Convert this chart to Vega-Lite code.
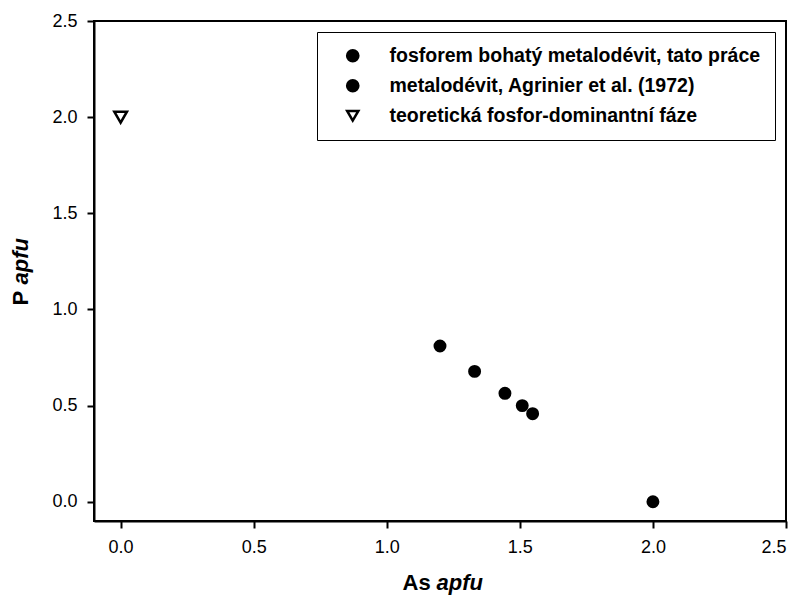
{
  "$schema": "https://vega.github.io/schema/vega-lite/v6.json",
  "width": 692,
  "height": 500,
  "autosize": {"type": "none"},
  "padding": {"left": 94, "top": 21, "right": 18, "bottom": 85},
  "background": "white",
  "config": {
    "font": "Liberation Sans",
    "view": {"stroke": "black", "strokeWidth": 2},
    "axis": {
      "grid": false,
      "domainColor": "black",
      "domainWidth": 2,
      "tickColor": "black",
      "tickWidth": 2,
      "tickSize": 7,
      "labelFont": "Liberation Sans",
      "labelFontSize": 18,
      "labelColor": "black",
      "titleFont": "Liberation Sans",
      "titleFontSize": 22,
      "titleFontWeight": "bold",
      "titleColor": "black"
    },
    "legend": {
      "labelFont": "Liberation Sans",
      "labelFontSize": 19.5,
      "labelFontWeight": "bold",
      "labelColor": "black",
      "labelLimit": 600
    }
  },
  "resolve": {"axis": {"x": "independent", "y": "independent"}},
  "layer": [
    {
      "data": {
        "values": [
          {"As": 1.20, "P": 0.81, "series": "fosforem bohatý metalodévit, tato práce"},
          {"As": 1.33, "P": 0.678, "series": "fosforem bohatý metalodévit, tato práce"},
          {"As": 1.444, "P": 0.564, "series": "fosforem bohatý metalodévit, tato práce"},
          {"As": 1.509, "P": 0.50, "series": "fosforem bohatý metalodévit, tato práce"},
          {"As": 1.548, "P": 0.458, "series": "fosforem bohatý metalodévit, tato práce"},
          {"As": 2.0, "P": 0.0, "series": "metalodévit, Agrinier et al. (1972)"}
        ]
      },
      "mark": {"type": "point", "filled": false, "strokeWidth": 2, "size": 120, "opacity": 1},
      "encoding": {
        "x": {
          "field": "As", "type": "quantitative",
          "scale": {"domain": [-0.1, 2.5], "nice": false, "zero": false},
          "axis": {
            "orient": "bottom",
            "values": [0, 0.5, 1, 1.5, 2, 2.5],
            "format": ".1f",
            "labelPadding": 10,
            "title": "As",
            "titleAlign": "left",
            "titleBaseline": "middle",
            "titleX": 308,
            "titleY": 61
          }
        },
        "y": {
          "field": "P", "type": "quantitative",
          "scale": {"domain": [-0.1, 2.5], "nice": false, "zero": false},
          "axis": {
            "orient": "left",
            "values": [0, 0.5, 1, 1.5, 2, 2.5],
            "format": ".1f",
            "labelPadding": 10,
            "title": "P",
            "titleAngle": -90,
            "titleAlign": "left",
            "titleBaseline": "middle",
            "titleX": -74,
            "titleY": 284
          }
        },
        "shape": {
          "field": "series", "type": "nominal",
          "scale": {
            "domain": ["fosforem bohatý metalodévit, tato práce", "metalodévit, Agrinier et al. (1972)", "teoretická fosfor-dominantní fáze"],
            "range": ["circle", "circle", "triangle-down"]
          },
          "legend": {
            "title": null,
            "orient": "top-right",
            "offset": 11,
            "strokeColor": "black",
            "fillColor": "white",
            "padding": 14,
            "symbolOffset": 12,
            "labelOffset": 27,
            "rowPadding": 8,
            "symbolSize": 125,
            "symbolStrokeWidth": 2.5,
            "encode": {
              "legend": {"update": {"strokeWidth": {"value": 1.5}}},
              "symbols": {"update": {"strokeWidth": {"value": 2.5}}}
            }
          }
        },
        "fill": {
          "field": "series", "type": "nominal",
          "scale": {
            "domain": ["fosforem bohatý metalodévit, tato práce", "metalodévit, Agrinier et al. (1972)", "teoretická fosfor-dominantní fáze"],
            "range": ["black", "black", "white"]
          }
        },
        "stroke": {
          "field": "series", "type": "nominal",
          "scale": {
            "domain": ["fosforem bohatý metalodévit, tato práce", "metalodévit, Agrinier et al. (1972)", "teoretická fosfor-dominantní fáze"],
            "range": ["black", "black", "black"]
          }
        }
      }
    },
    {
      "data": {
        "values": [
          {"As": 0.0, "P": 2.0, "series": "teoretická fosfor-dominantní fáze"}
        ]
      },
      "mark": {"type": "point", "filled": false, "strokeWidth": 2.5, "size": 160, "opacity": 1},
      "encoding": {
        "x": {
          "field": "As", "type": "quantitative",
          "scale": {"domain": [-0.1, 2.5], "nice": false, "zero": false},
          "axis": {
            "orient": "bottom",
            "ticks": false, "labels": false, "domain": false, "grid": false,
            "title": "apfu",
            "titleFontStyle": "italic",
            "titleAlign": "left",
            "titleBaseline": "middle",
            "titleX": 342,
            "titleY": 61
          }
        },
        "y": {
          "field": "P", "type": "quantitative",
          "scale": {"domain": [-0.1, 2.5], "nice": false, "zero": false},
          "axis": {
            "orient": "left",
            "ticks": false, "labels": false, "domain": false, "grid": false,
            "title": "apfu",
            "titleFontStyle": "italic",
            "titleAngle": -90,
            "titleAlign": "left",
            "titleBaseline": "middle",
            "titleX": -74,
            "titleY": 263
          }
        },
        "shape": {
          "field": "series", "type": "nominal",
          "scale": {
            "domain": ["fosforem bohatý metalodévit, tato práce", "metalodévit, Agrinier et al. (1972)", "teoretická fosfor-dominantní fáze"],
            "range": ["circle", "circle", "triangle-down"]
          }
        },
        "fill": {
          "field": "series", "type": "nominal",
          "scale": {
            "domain": ["fosforem bohatý metalodévit, tato práce", "metalodévit, Agrinier et al. (1972)", "teoretická fosfor-dominantní fáze"],
            "range": ["black", "black", "white"]
          }
        },
        "stroke": {
          "field": "series", "type": "nominal",
          "scale": {
            "domain": ["fosforem bohatý metalodévit, tato práce", "metalodévit, Agrinier et al. (1972)", "teoretická fosfor-dominantní fáze"],
            "range": ["black", "black", "black"]
          }
        }
      }
    }
  ]
}
